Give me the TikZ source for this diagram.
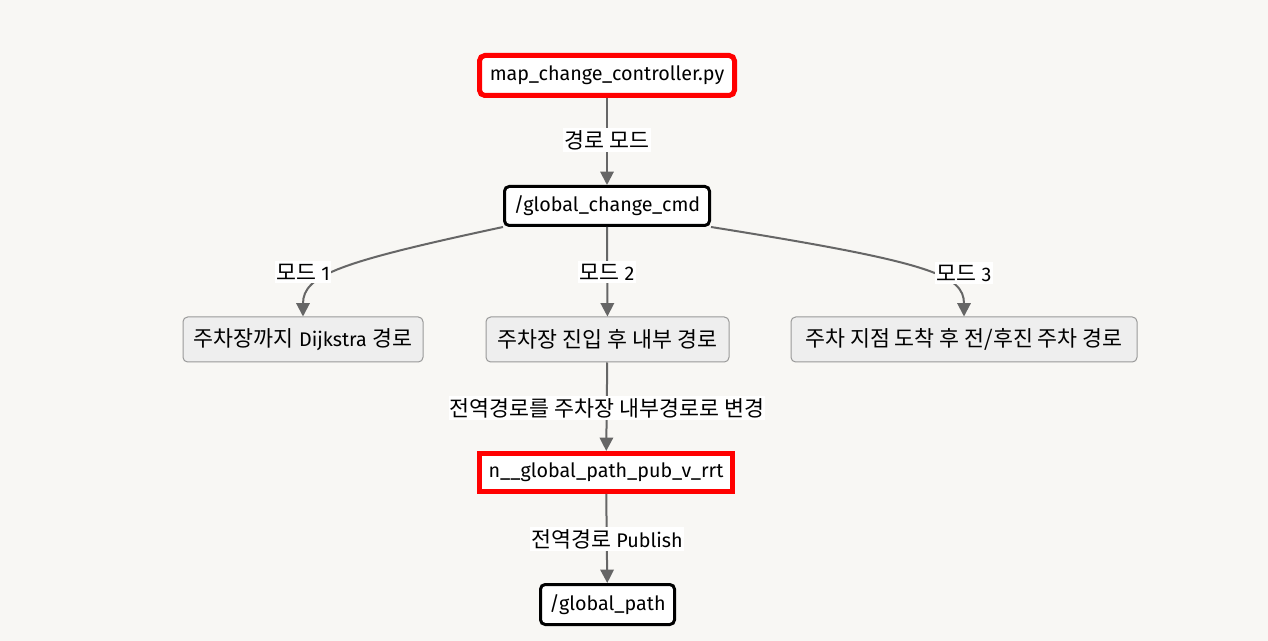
\documentclass[tikz,border=0pt]{standalone}
\usepackage{fontspec}
\setmainfont{Fira Sans}
\newfontfamily\kr{Noto Sans CJK KR}[Scale=1.1]
\usetikzlibrary{arrows.meta}
\definecolor{bgc}{RGB}{248,247,244}
\definecolor{edgec}{RGB}{102,102,102}
\definecolor{grayfill}{RGB}{238,238,238}
\definecolor{graydraw}{RGB}{153,153,153}
\definecolor{redc}{RGB}{255,0,0}
\tikzset{
  base/.style={inner sep=0pt, font=\fontsize{14.8}{17}\selectfont, text=black, align=center},
  redbox/.style={base, draw=redc, line width=3.75pt, fill=white, rounded corners=4pt},
  redsq/.style={base, draw=redc, line width=3.75pt, fill=white},
  blackbox/.style={base, draw=black, line width=2.25pt, fill=white, rounded corners=3.5pt},
  graybox/.style={base, draw=graydraw, line width=0.75pt, fill=grayfill, rounded corners=3.5pt},
  conn/.style={draw=edgec, line width=1.5pt, -{Triangle[length=10pt,width=10pt]}},
  lbl/.style={base, fill=white, inner xsep=1pt, inner ysep=2pt}
}
\begin{document}
\begin{tikzpicture}[x=0.75pt,y=-0.75pt]
\fill[bgc] (0,0) rectangle (1268,641);
\useasboundingbox (0,0) rectangle (1268,641);

\node[redbox, minimum width=191.25pt, minimum height=30pt] (top) at (607,75.5) {map\_change\_controller.py};
\node[blackbox, minimum width=153.75pt, minimum height=29.25pt] (cmd) at (607,206) {/global\_change\_cmd};
\node[graybox, minimum width=180pt, minimum height=33.75pt] (left) at (303,339.5) {{\kr 주차장까지} Dijkstra {\kr 경로}};
\node[graybox, minimum width=182.25pt, minimum height=33.75pt] (mid) at (607.5,339.5) {\kr 주차장 진입 후 내부 경로};
\node[graybox, minimum width=259.5pt, minimum height=33.75pt] (right) at (964,339.5) {\kr 주차 지점 도착 후 전/후진 주차 경로};
\node[redsq, minimum width=189.75pt, minimum height=28.5pt] (rrt) at (606,472.5) {n\_\_global\_path\_pub\_v\_rrt};
\node[blackbox, minimum width=100.5pt, minimum height=30pt] (gp) at (607.5,604.5) {/global\_path};

\draw[conn] (top) -- (cmd);
\draw[conn] (cmd.south west) .. controls (340,262) and (303,275) .. (left.north);
\draw[conn] (cmd) -- (mid);
\draw[conn] (cmd.south east) .. controls (930,262) and (964,275) .. (right.north);
\draw[conn] (mid) -- (rrt);
\draw[conn] (rrt) -- (gp);

\node[lbl] (l0) at (607,140) {\kr 경로 모드};
\node[lbl] (l1) at (303,272) {{\kr 모드} 1};
\node[lbl] (l2) at (607,272) {{\kr 모드} 2};
\node[lbl] (l3) at (964,273) {{\kr 모드} 3};
\node[lbl] (l4) at (607,408) {\kr 전역경로를 주차장 내부경로로 변경};
\node[lbl] (l5) at (607,539) {{\kr 전역경로} Publish};
\end{tikzpicture}
\end{document}
